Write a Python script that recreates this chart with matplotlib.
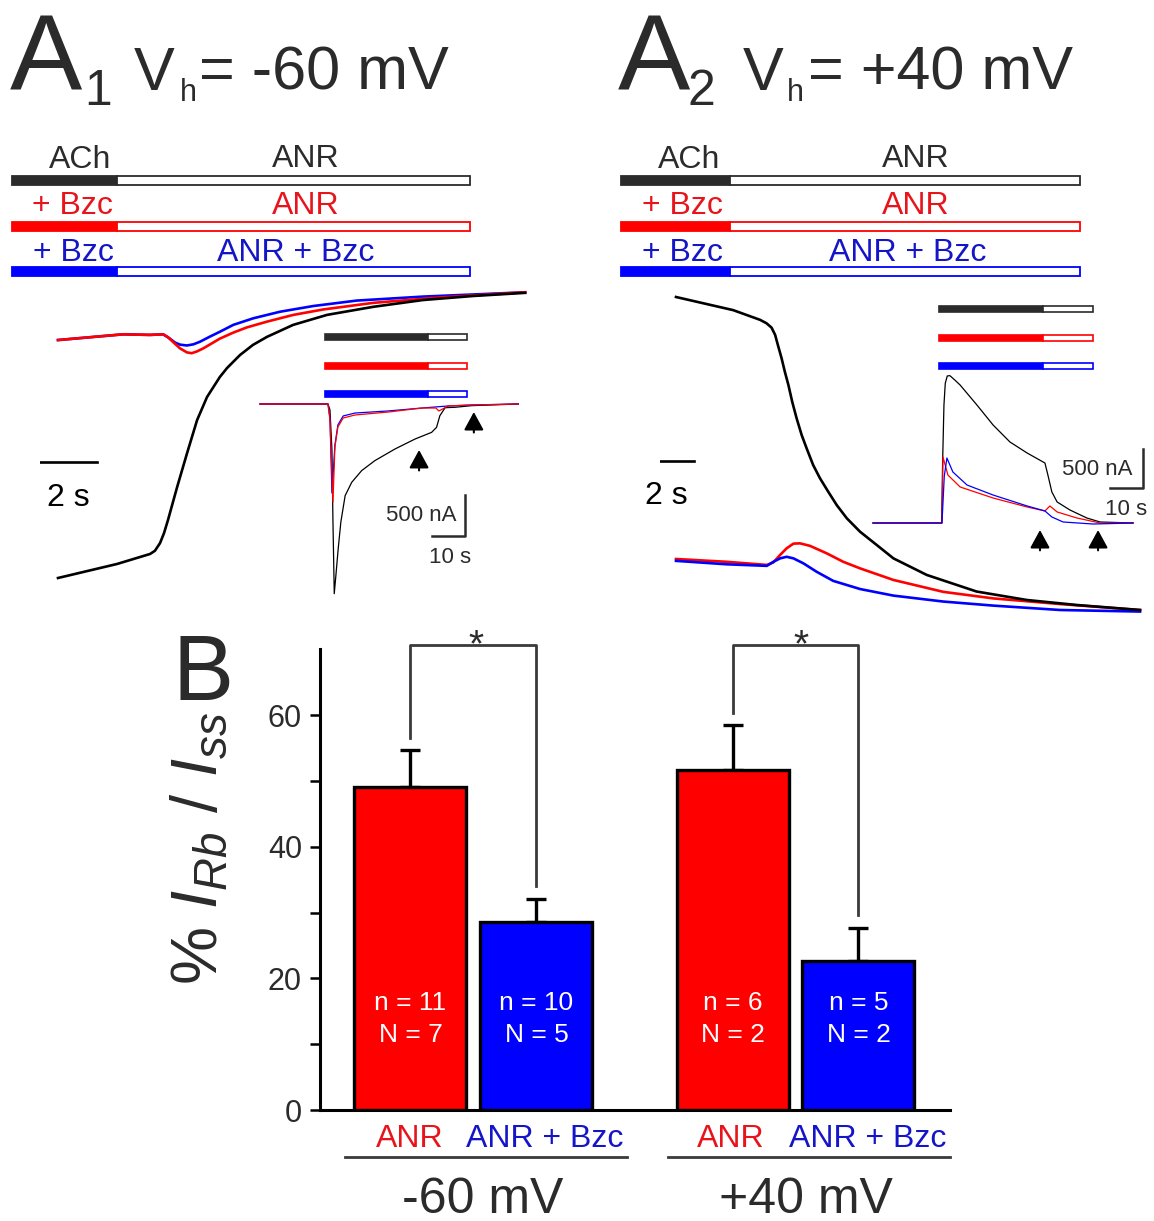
import matplotlib
matplotlib.use("Agg")
import matplotlib.pyplot as plt
from matplotlib.patches import Rectangle

plt.rcParams["font.family"] = ["Liberation Sans", "DejaVu Sans"]
plt.rcParams["mathtext.fontset"] = "custom"
plt.rcParams["mathtext.rm"] = "Liberation Sans"
plt.rcParams["mathtext.it"] = "Liberation Sans:italic"

W, H = 1154, 1221

DARK = "#2b2b2b"
RED = "#ff0000"
BLUE = "#0000ff"
RED_TXT = "#e8141b"
BLUE_TXT = "#1414c8"


# ---- A1: Vh = -60 mV, main traces (time s, normalised current) ----
a1_t_black = [0, 2.07, 3.23, 3.40, 3.58, 3.72, 3.86, 4.18, 4.53, 4.88, 5.23,
              5.68, 5.93, 6.39, 6.84, 7.33, 8.25, 9.44, 11.05, 12.81, 14.56, 16.39]
a1_i_black = [-1.000, -0.951, -0.916, -0.905, -0.878, -0.843, -0.797, -0.682,
              -0.563, -0.448, -0.367, -0.297, -0.266, -0.220, -0.185, -0.157,
              -0.115, -0.080, -0.052, -0.028, -0.014, -0.003]

a1_t_red = [0, 2.28, 3.23, 3.69, 3.87, 4.05, 4.28, 4.52, 4.69, 4.87, 5.10, 5.39,
            5.68, 6.15, 6.62, 7.32, 8.26, 9.31, 11.06, 13.40, 16.39]
a1_i_red = [-0.168, -0.148, -0.150, -0.148, -0.159, -0.176, -0.197, -0.211,
            -0.214, -0.208, -0.197, -0.180, -0.163, -0.142, -0.124, -0.104,
            -0.080, -0.061, -0.038, -0.019, -0.001]

a1_t_blue = [0, 2.28, 3.23, 3.69, 3.87, 4.11, 4.28, 4.52, 4.75, 4.98, 5.33, 5.68,
             6.15, 6.85, 7.79, 8.96, 10.48, 12.82, 16.39]
a1_i_blue = [-0.168, -0.148, -0.150, -0.148, -0.159, -0.177, -0.184, -0.187,
             -0.183, -0.174, -0.156, -0.139, -0.115, -0.092, -0.069, -0.049,
             -0.030, -0.016, -0.001]

# ---- A1 inset (time s, current nA) ----
a1in_t_black = [0, 20.6, 21.2, 21.8, 22.1, 22.5, 23.0, 23.7, 24.5, 25.8, 27.8,
                30.8, 34.8, 40.9, 47.0, 52.0, 53.5, 54.5, 56.1, 59.1, 64.2, 78.3]
a1in_i_black = [0, 0, -73, -561, -1415, -2314, -2090, -1765, -1440, -1118, -955,
                -813, -691, -549, -427, -346, -285, -143, -45, -40, -20, 0]

a1in_t_red = [0, 20.6, 21.2, 22.1, 22.7, 23.6, 25.2, 28.8, 38.8, 49.1, 53.3,
              54.2, 57.0, 64.2, 78.2]
a1in_i_red = [0, 0, -195, -1196, -525, -281, -171, -134, -98, -49, -49, -85,
              -24, -12, 0]

a1in_t_blue = [0, 20.6, 21.2, 21.8, 22.7, 23.6, 25.2, 28.8, 38.8, 49.1, 57.0,
               64.2, 78.2]
a1in_i_blue = [0, 0, -171, -1086, -500, -256, -146, -110, -85, -49, -24, -12, 0]

a1_arrow_t = [48.2, 64.8]
a1_arrow_tip = [-561, -98]

# ---- A2: Vh = +40 mV, main traces ----
a2_t_black = [0, 1.94, 2.85, 3.07, 3.24, 3.36, 3.47, 3.58, 3.69, 3.81, 3.94,
              4.09, 4.26, 4.43, 4.65, 4.88, 5.16, 5.45, 5.79, 6.24, 6.80, 7.37,
              8.50, 10.19, 11.89, 13.58, 15.73]
a2_i_black = [1.000, 0.958, 0.927, 0.916, 0.902, 0.879, 0.841, 0.804, 0.761,
              0.719, 0.665, 0.612, 0.559, 0.516, 0.463, 0.421, 0.378, 0.335,
              0.293, 0.250, 0.208, 0.165, 0.112, 0.059, 0.032, 0.016, 0.0]

a2_t_red = [0, 1.72, 3.08, 3.30, 3.53, 3.75, 3.98, 4.20, 4.54, 5.11, 5.67, 6.24,
            7.37, 9.06, 10.76, 13.02, 15.73]
a2_i_red = [0.163, 0.154, 0.144, 0.152, 0.176, 0.197, 0.212, 0.213, 0.205,
            0.181, 0.154, 0.133, 0.096, 0.058, 0.037, 0.019, 0.0]

a2_t_blue = [0, 1.72, 3.08, 3.30, 3.53, 3.75, 3.98, 4.32, 4.77, 5.33, 6.24,
             7.37, 9.06, 10.76, 13.02, 15.73]
a2_i_blue = [0.157, 0.146, 0.141, 0.154, 0.165, 0.170, 0.165, 0.149, 0.122,
             0.093, 0.067, 0.046, 0.027, 0.014, 0.0, -0.005]

# ---- A2 inset ----
a2in_t_black = [0, 20.8, 21.1, 21.5, 21.9, 22.5, 23.3, 24.8, 26.4, 31.5, 36.4,
                41.5, 46.7, 52.1, 53.0, 54.2, 55.8, 59.7, 64.8, 68.8, 78.8]
a2in_i_black = [0, 0, 785, 1510, 1788, 1882, 1886, 1830, 1766, 1510, 1254,
                1037, 896, 768, 614, 397, 269, 166, 64, 13, 0]

a2in_t_red = [0, 20.9, 21.2, 22.7, 26.4, 36.4, 46.7, 52.1, 53.6, 55.8, 61.8,
              68.8, 78.8]
a2in_i_red = [0, 0, 845, 614, 461, 320, 205, 154, 218, 141, 64, 0, 0]

a2in_t_blue = [0, 20.9, 21.6, 22.4, 24.2, 28.5, 36.4, 46.7, 52.1, 54.2, 57.6,
               66.7, 78.8]
a2in_i_blue = [0, 0, 600, 832, 653, 486, 358, 218, 154, 77, 13, -13, 0]

a2_arrow_t = [50.6, 68.2]
a2_arrow_tip = [-90, -90]

# ---- B: bar chart ----
conditions = ["ANR", "ANR + Bzc", "ANR", "ANR + Bzc"]
groups = ["-60 mV", "+40 mV"]
means = [49.1, 28.5, 51.7, 22.7]
sems = [5.6, 3.5, 6.8, 4.9]
n_cells = [11, 10, 6, 5]
n_animals = [7, 5, 2, 2]


fig = plt.figure(figsize=(W / 100, H / 100), dpi=100)

ov = fig.add_axes([0, 0, 1, 1])
ov.set_xlim(0, W)
ov.set_ylim(H, 0)
ov.axis("off")


def trace_axes(box, x0, sx, y0, sy):
    # box in image pixels (left, top, right, bottom); px = x0 + sx*x, py = y0 - sy*y
    l, t, r, b = box
    ax = fig.add_axes([l / W, 1 - b / H, (r - l) / W, (b - t) / H])
    ax.set_xlim((l - x0) / sx, (r - x0) / sx)
    ax.set_ylim((y0 - b) / sy, (y0 - t) / sy)
    ax.axis("off")
    return ax


def stim_bar(x0, xs, x1, y, h, color, lw=1.3):
    ov.add_patch(Rectangle((x0, y - h / 2), xs - x0, h, facecolor=color,
                           edgecolor=color, lw=lw))
    ov.add_patch(Rectangle((xs, y - h / 2), x1 - xs, h, facecolor="white",
                           edgecolor=color, lw=lw))


# ---- titles ----
ov.text(10, 90, "A", fontsize=78, color=DARK, va="baseline")
ov.text(84, 105, "1", fontsize=36, color=DARK, va="baseline")
ov.text(134, 90, "V", fontsize=44, color=DARK, va="baseline")
ov.text(180, 101, "h", fontsize=22, color=DARK, va="baseline")
ov.text(199, 90, "= -60 mV", fontsize=44, color=DARK, va="baseline")

ov.text(618, 90, "A", fontsize=78, color=DARK, va="baseline")
ov.text(688, 105, "2", fontsize=36, color=DARK, va="baseline")
ov.text(743, 90, "V", fontsize=44, color=DARK, va="baseline")
ov.text(787, 101, "h", fontsize=22, color=DARK, va="baseline")
ov.text(808, 90, "= +40 mV", fontsize=44, color=DARK, va="baseline")

# ---- application bars above traces ----
row_colors = [DARK, RED, BLUE]
txt_colors = [DARK, RED_TXT, BLUE_TXT]
left_lbl = ["ACh", "+ Bzc", "+ Bzc"]
right_lbl = ["ANR", "ANR", "ANR + Bzc"]
row_y = [180, 226, 271]
row_base = [168, 214, 261]
panels = [(12, 117, 470, [80, 72, 73], [306, 306, 296]),
          (621, 730, 1080, [689, 682, 682], [916, 916, 908])]
for px0, pxs, px1, lcs, rcs in panels:
    for k in range(3):
        stim_bar(px0, pxs, px1, row_y[k], 9, row_colors[k])
        ov.text(lcs[k], row_base[k], left_lbl[k], fontsize=23,
                color=txt_colors[k], ha="center", va="baseline")
        ov.text(rcs[k], row_base[k] - (1 if k == 0 else 0), right_lbl[k],
                fontsize=23, color=txt_colors[k], ha="center", va="baseline")

# inset application bars
for k, y in enumerate([337, 366, 394]):
    stim_bar(325, 428, 467, y, 6, row_colors[k], lw=1.2)
for k, y in enumerate([309, 338, 366]):
    stim_bar(939, 1043, 1093, y, 6, row_colors[k], lw=1.2)

arrow_kw = dict(arrowstyle="-|>,head_length=0.55,head_width=0.3", color="black",
                lw=1.5, mutation_scale=20, shrinkA=0, shrinkB=0)

# ---- A1 main traces ----
ax1 = trace_axes((40, 280, 545, 600), 58, 28.5, 292, 286)
ax1.plot(a1_t_blue, a1_i_blue, color=BLUE, lw=1.9)
ax1.plot(a1_t_red, a1_i_red, color=RED, lw=1.9)
ax1.plot(a1_t_black, a1_i_black, color="black", lw=1.9)
ax1.plot([-0.63, 1.37], [-0.594, -0.594], color="black", lw=1.9)
ov.text(68, 506, "2 s", fontsize=23, color="black", ha="center", va="baseline")

# ---- A1 inset ----
ax1i = trace_axes((255, 395, 525, 600), 260, 3.3, 404, 1 / 12.2)
ax1i.plot(a1in_t_black, a1in_i_black, color="black", lw=0.9)
ax1i.plot(a1in_t_blue, a1in_i_blue, color=BLUE, lw=0.9)
ax1i.plot(a1in_t_red, a1in_i_red, color=RED, lw=0.9)
ax1i.plot([52.1, 62.1, 62.1], [-1610, -1610, -1110], color=DARK, lw=1.8)
for t, tip in zip(a1_arrow_t, a1_arrow_tip):
    ax1i.annotate("", xy=(t, tip), xytext=(t, tip - 250), arrowprops=arrow_kw)
ov.text(456, 521, "500 nA", fontsize=16, color=DARK, ha="right", va="baseline")
ov.text(450, 563, "10 s", fontsize=16, color=DARK, ha="center", va="baseline")

# ---- A2 main traces ----
ax2 = trace_axes((660, 285, 1150, 620), 676, 29.5, 610, 313)
ax2.plot(a2_t_red, a2_i_red, color=RED, lw=1.9)
ax2.plot(a2_t_blue, a2_i_blue, color=BLUE, lw=1.9)
ax2.plot(a2_t_black, a2_i_black, color="black", lw=1.9)
ax2.plot([-1.39, 0.61], [0.476, 0.476], color="black", lw=1.9)
ov.text(666, 504, "2 s", fontsize=23, color="black", ha="center", va="baseline")

# ---- A2 inset ----
ax2i = trace_axes((865, 360, 1150, 560), 873, 3.3, 523, 1 / 12.8)
ax2i.plot(a2in_t_black, a2in_i_black, color="black", lw=0.9)
ax2i.plot(a2in_t_red, a2in_i_red, color=RED, lw=0.9)
ax2i.plot(a2in_t_blue, a2in_i_blue, color=BLUE, lw=0.9)
ax2i.plot([71.8, 81.8, 81.8], [448, 448, 948], color=DARK, lw=1.8)
for t, tip in zip(a2_arrow_t, a2_arrow_tip):
    ax2i.annotate("", xy=(t, tip), xytext=(t, tip - 260), arrowprops=arrow_kw)
ov.text(1133, 475, "500 nA", fontsize=16, color=DARK, ha="right", va="baseline")
ov.text(1126, 515, "10 s", fontsize=16, color=DARK, ha="center", va="baseline")

# ---- B ----
y_px = 6.58
axb = fig.add_axes([320 / W, 1 - 1110 / H, 630 / W, 70 * y_px / H])
pos = [0, 1.125, 2.88, 4.0]
bar_colors = [RED, BLUE, RED, BLUE]
axb.bar(pos, means, width=1.0, color=bar_colors, edgecolor="black",
        linewidth=2.4, zorder=2)
axb.errorbar(pos, means, yerr=[[0] * 4, sems], fmt="none", ecolor="black",
             elinewidth=2.4, capsize=7.2, capthick=2.4, zorder=1)
axb.set_xlim(-0.808, 4.817)
axb.set_ylim(0, 70)
axb.set_yticks([0, 20, 40, 60])
axb.set_yticks([10, 30, 50], minor=True)
axb.set_xticks([])
axb.tick_params(axis="y", which="both", direction="out", length=7, width=1.8,
                labelsize=22, labelcolor=DARK, pad=6)
for s in ["top", "right"]:
    axb.spines[s].set_visible(False)
for s in ["left", "bottom"]:
    axb.spines[s].set_linewidth(2.2)

# significance brackets
for a, b in [(0, 1), (2, 3)]:
    ya = means[a] + sems[a] + 1.8
    yb = means[b] + sems[b] + 2.0
    axb.plot([pos[a], pos[a], pos[b], pos[b]], [ya, 70.7, 70.7, yb],
             color="#3a3a3a", lw=2.0, clip_on=False)
for x in [476, 801]:
    ov.text(x, 656, "*", fontsize=28, color=DARK, ha="center", va="baseline")

for p, n, N in zip(pos, n_cells, n_animals):
    axb.text(p, 15.2, f"n = {n}", fontsize=19, color="white", ha="center",
             va="baseline")
    axb.text(p, 10.4, f"N = {N}", fontsize=19, color="white", ha="center",
             va="baseline")

ov.text(172, 700, "B", fontsize=66, color=DARK, va="baseline")
ov.text(200, 848, r"% $I_{Rb}$ / $I_{ss}$", fontsize=47, color=DARK,
        rotation=90, ha="center", va="center")

cond_x = [410, 545, 731, 868]
for x, lbl, c in zip(cond_x, conditions, [RED_TXT, BLUE_TXT, RED_TXT, BLUE_TXT]):
    ov.text(x, 1147, lbl, fontsize=23, color=c, ha="center", va="baseline")
for (x0, x1), g in zip([(345, 627), (668, 950)], groups):
    ov.plot([x0, x1], [1157, 1157], color="#3a3a3a", lw=2.0)
    ov.text((x0 + x1) / 2 - 3, 1213, g, fontsize=36, color=DARK, ha="center",
            va="baseline")

fig.savefig("out.png", dpi=100)
